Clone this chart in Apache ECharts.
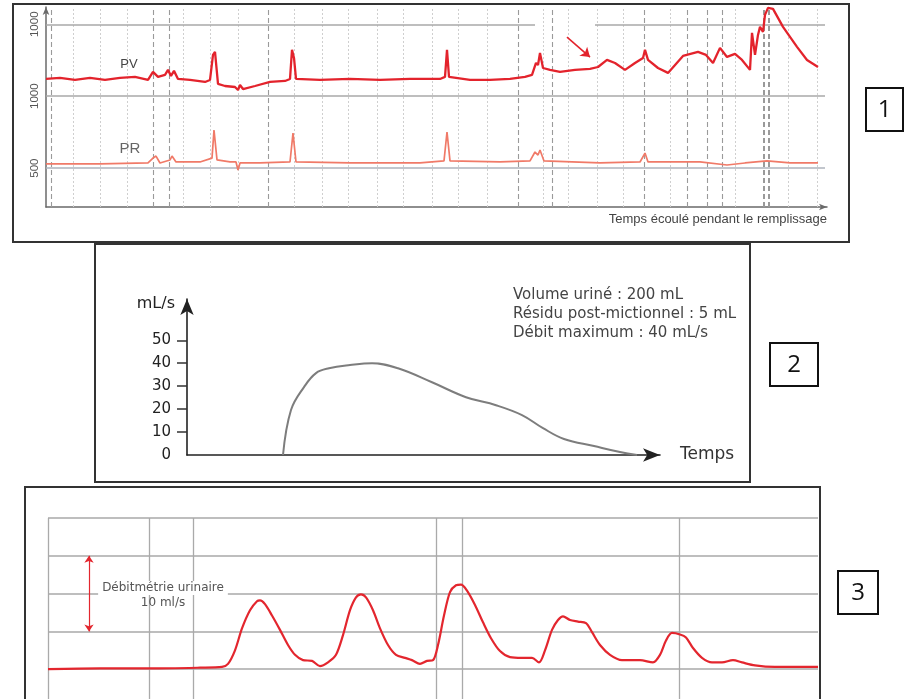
<!DOCTYPE html>
<html><head><meta charset="utf-8">
<script src="https://cdn.jsdelivr.net/npm/echarts@6/dist/echarts.min.js"></script>
<style>html,body{margin:0;padding:0;background:#fff}#c{width:907px;height:699px}</style>
</head><body><div id="c"></div>
<script>
// ---------- Panel 1 : cystomanométrie (PV / PR) ----------
const pvTime = [0,1.4,2.9,4.4,5.9,7.4,8.9,10.2,10.7,11.2,11.9,12.2,12.5,12.8,13.2,14.4,15.9,16.4,16.7,16.9,17.2,17.9,18.9,19.2,19.4,19.7,20.9,22.4,23.9,24.4,24.6,24.8,25.0,27.4,30.4,33.4,36.4,39.4,39.9,40.1,40.3,42.4,44.4,46.4,47.9,48.6,49.0,49.2,49.4,49.7,50.4,51.4,52.9,54.4,55.2,56.1,56.9,57.9,58.9,59.7,59.9,60.2,61.2,62.2,63.7,65.2,66.0,66.7,67.4,68.1,68.9,69.6,70.4,70.6,70.9,71.2,71.4,71.7,71.9,72.2,72.7,73.7,75.1,76.1,77.2];
const pvValues = [1120,1127,1113,1127,1113,1127,1134,1113,1169,1134,1148,1183,1141,1176,1120,1113,1099,1113,1287,1308,1085,1071,1064,1043,1078,1050,1071,1099,1106,1120,1322,1266,1120,1113,1120,1113,1120,1120,1134,1322,1134,1113,1113,1120,1134,1148,1231,1217,1301,1196,1183,1169,1183,1190,1203,1252,1231,1183,1231,1266,1322,1252,1196,1162,1280,1308,1287,1231,1336,1273,1294,1252,1183,1440,1287,1426,1482,1447,1565,1614,1607,1482,1343,1252,1203];
const prTime = [0,5.4,10.2,10.7,11.0,11.4,12.4,12.6,13.0,15.4,16.6,16.8,17.1,18.4,19.0,19.2,19.4,21.4,24.4,24.7,25.0,30.4,37.4,39.8,40.1,40.4,45.4,48.4,48.9,49.2,49.4,49.8,55.4,59.4,59.9,60.2,65.4,68.1,69.9,72.1,74.4,77.2];
const prValues = [530,530,536,570,584,536,557,584,543,543,570,765,557,543,543,487,536,536,543,744,543,536,536,550,751,550,543,550,612,591,626,550,536,543,605,543,543,522,536,550,536,536];
const p1YTickValues = [500, 1000, 1500];
const p1YTickLabels = ['500', '1000', '1000'];
const p1DottedX = [2.7,5.4,8.1,13.7,16.4,19.2,24.8,27.6,30.2,33.1,35.7,38.6,41.2,44.1,49.7,52.2,55.1,57.7,62.4,68.9,74.2,77.1];
const p1DashedX = [0.5,10.7,12.3,22.2,47.2,50.6,59.8,64.1,66.1,67.6,71.8,72.3];
const p1GridY = [1500, 1500, 1000, 500];
const p1GridFrom = [0, 54.9, 0, 0];
const p1GridTo = [48.9, 77.9, 77.9, 77.9];

// ---------- Panel 2 : débitmétrie normale ----------
const flowTime = [9.6,10.4,11.7,12.9,14.2,16.3,18.5,21.1,24.5,27.9,30.9,33.5,35.6,37.7,40.7,43.3,45.0];
const flowValues = [0,19.6,29.6,35.7,37.8,39.2,40,37.8,31.7,25.2,21.7,17.4,11.7,7,3.9,1.3,0];
const p2YTicks = [0,10,20,30,40,50];

// ---------- Panel 3 : débitmétrie polyphasique ----------
const uroTime = [0,5.2,10.2,15.2,17.4,18.0,18.7,19.4,20.2,20.9,21.2,21.7,22.4,23.2,24.0,24.7,25.5,26.4,27.2,28.0,28.8,29.5,30.2,30.8,31.3,31.8,32.5,33.2,34.0,34.8,35.7,36.4,37.2,37.9,38.5,39.0,39.6,40.2,40.8,41.3,41.9,42.7,43.5,44.3,45.2,46.2,47.4,48.4,49.1,49.7,50.4,51.0,51.5,52.2,53.0,53.8,54.4,55.2,56.2,57.4,59.2,60.5,61.2,61.8,62.4,63.2,63.8,64.5,65.4,66.4,67.4,68.5,69.4,70.7,72.7,75.2,77.0];
const uroValues = [0,0.1,0.1,0.2,0.3,0.7,2.5,5.4,7.8,9.0,9.1,8.6,7.1,5.2,3.2,1.9,1.2,1.1,0.4,0.9,1.9,4.5,7.8,9.5,9.9,9.5,7.8,5.4,3.2,1.9,1.5,1.2,0.7,1.1,1.2,3.2,7.1,10.2,11.1,11.2,10.4,8.5,6.2,4.1,2.4,1.6,1.5,1.5,0.9,2.5,5.2,6.5,7.0,6.5,6.3,6.1,4.9,3.2,1.9,1.2,1.2,0.9,1.9,3.8,4.8,4.6,4.2,2.8,1.5,0.9,0.9,1.2,0.9,0.5,0.3,0.3,0.3];
const p3VLines = [0,10.1,14.5,38.8,41.4,63.1];

const zip = (xs, ys) => xs.map((x, i) => [x, ys[i]]);
const SANS = 'Liberation Sans, Arial, sans-serif';
const WIDE = 'DejaVu Sans, sans-serif';

const p1Marks = [];
p1DottedX.forEach(v => p1Marks.push({xAxis: v, lineStyle: {color: '#cfcfcf', width: 1, type: [2, 2]}}));
p1DashedX.forEach((v, i) => p1Marks.push({xAxis: v, lineStyle: {color: '#9a9a9a', width: (i >= 10 ? 2 : 1.1), type: [5, 3]}}));
p1GridY.forEach((y, i) => p1Marks.push([{coord: [p1GridFrom[i], y]}, {coord: [p1GridTo[i], y], lineStyle: {color: (y === 500 ? '#aeb3bd' : '#a8a8a8'), width: 1.6, type: 'solid'}}]));

const p3Marks = p3VLines.map(v => ({xAxis: v, lineStyle: {color: '#aaaaaa', width: 1.3, type: 'solid'}}));
p3Marks.push([{coord: [4.1, 15], symbol: 'arrow'}, {coord: [4.1, 5], symbol: 'arrow', lineStyle: {color: '#e3262e', width: 1.2, type: 'solid'}}]);

const chart = echarts.init(document.getElementById('c'), null, {renderer: 'canvas'});
chart.setOption({
  animation: false,
  backgroundColor: '#ffffff',
  grid: [
    {left: 46, top: 7, width: 781, height: 200, outerBoundsMode: 'none', containLabel: false},
    {left: 187, top: 299, width: 473, height: 156, outerBoundsMode: 'none', containLabel: false},
    {left: 48, top: 518, width: 770, height: 189, outerBoundsMode: 'none', containLabel: false}
  ],
  xAxis: [
    {gridIndex: 0, type: 'value', min: 0, max: 78.1,
      axisLine: {show: true, onZero: false, symbol: ['none', 'arrow'], symbolSize: [5, 8], lineStyle: {color: '#6a6a6a', width: 1.5}},
      axisTick: {show: false}, axisLabel: {show: false}, splitLine: {show: false}},
    {gridIndex: 1, type: 'value', min: 0, max: 47.3,
      axisLine: {show: true, onZero: false, symbol: ['none', 'arrow'], symbolSize: [10, 17], lineStyle: {color: '#222', width: 1.6}},
      axisTick: {show: false}, axisLabel: {show: false}, splitLine: {show: false},
      name: 'Temps', nameLocation: 'end', nameGap: 20,
      nameTextStyle: {fontFamily: WIDE, fontSize: 17, color: '#333'}},
    {gridIndex: 2, type: 'value', min: 0, max: 77, show: false}
  ],
  yAxis: [
    {gridIndex: 0, type: 'value', min: 230, max: 1620,
      axisLine: {show: true, onZero: false, symbol: ['none', 'arrow'], symbolSize: [5, 8], lineStyle: {color: '#6a6a6a', width: 1.5}},
      axisTick: {show: false}, splitLine: {show: false},
      axisLabel: {customValues: p1YTickValues, rotate: 90, margin: 5, fontFamily: SANS, fontSize: 11.5, color: '#555',
        formatter: v => p1YTickLabels[p1YTickValues.indexOf(v)]}},
    {gridIndex: 1, type: 'value', min: 0, max: 68,
      axisLine: {show: true, onZero: false, symbol: ['none', 'arrow'], symbolSize: [10, 16], lineStyle: {color: '#222', width: 1.6}},
      axisTick: {show: true, customValues: p2YTicks.slice(1), length: 10, lineStyle: {color: '#333', width: 1.5}},
      axisLabel: {customValues: p2YTicks, margin: 16, fontFamily: WIDE, fontSize: 15, color: '#222'},
      splitLine: {show: false}},
    {gridIndex: 2, type: 'value', min: -5, max: 20, interval: 5,
      axisLine: {show: false}, axisTick: {show: false}, axisLabel: {show: false},
      splitLine: {show: true, lineStyle: {color: '#a9a9a9', width: 1.5}}}
  ],
  series: [
    {name: 'PV', type: 'line', xAxisIndex: 0, yAxisIndex: 0, data: zip(pvTime, pvValues),
      showSymbol: false, lineStyle: {color: '#e3232c', width: 2.3}, z: 3,
      markLine: {silent: true, z: 1, symbol: 'none', label: {show: false}, animation: false, data: p1Marks}},
    {name: 'PR', type: 'line', xAxisIndex: 0, yAxisIndex: 0, data: zip(prTime, prValues),
      showSymbol: false, lineStyle: {color: '#f07a68', width: 1.7}, z: 3,
      markLine: {silent: true, symbol: ['none', 'arrow'], symbolSize: 9, label: {show: false}, animation: false,
        lineStyle: {color: '#e3232c', width: 1.6, type: 'solid'},
        data: [[{coord: [52.1, 1411]}, {coord: [54.4, 1272]}]]}},
    {name: 'Débit', type: 'line', xAxisIndex: 1, yAxisIndex: 1, data: zip(flowTime, flowValues),
      showSymbol: false, smooth: 0.4, lineStyle: {color: '#7d7d7d', width: 2}},
    {name: 'Débitmétrie', type: 'line', xAxisIndex: 2, yAxisIndex: 2, data: zip(uroTime, uroValues),
      showSymbol: false, smooth: 0.3, lineStyle: {color: '#e3262e', width: 2.2}, z: 3,
      markLine: {silent: true, z: 1, symbol: 'none', symbolSize: 7, label: {show: false}, animation: false, data: p3Marks}}
  ],
  graphic: [
    {type: 'rect', z: 50, shape: {x: 13, y: 4, width: 836, height: 238}, style: {fill: 'none', stroke: '#333', lineWidth: 2}},
    {type: 'rect', z: 50, shape: {x: 95, y: 244, width: 655, height: 238}, style: {fill: 'none', stroke: '#333', lineWidth: 2}},
    {type: 'rect', z: 50, shape: {x: 25, y: 487, width: 795, height: 230}, style: {fill: 'none', stroke: '#333', lineWidth: 2}},
    {type: 'rect', z: 50, shape: {x: 866, y: 88, width: 37, height: 43}, style: {fill: '#fff', stroke: '#111', lineWidth: 2}},
    {type: 'rect', z: 50, shape: {x: 770, y: 343, width: 48, height: 43}, style: {fill: '#fff', stroke: '#111', lineWidth: 2}},
    {type: 'rect', z: 50, shape: {x: 838, y: 571, width: 40, height: 43}, style: {fill: '#fff', stroke: '#111', lineWidth: 2}},
    {type: 'text', z: 60, style: {x: 884.5, y: 110, text: '1', fill: '#111', font: '24px "Open Sans", sans-serif', align: 'center', verticalAlign: 'middle', textAlign: 'center', textVerticalAlign: 'middle'}},
    {type: 'text', z: 60, style: {x: 794, y: 365, text: '2', fill: '#111', font: '24px "Open Sans", sans-serif', align: 'center', verticalAlign: 'middle', textAlign: 'center', textVerticalAlign: 'middle'}},
    {type: 'text', z: 60, style: {x: 858, y: 593, text: '3', fill: '#111', font: '24px "Open Sans", sans-serif', align: 'center', verticalAlign: 'middle', textAlign: 'center', textVerticalAlign: 'middle'}},
    {type: 'text', z: 60, style: {x: 129, y: 64, text: 'PV', fill: '#444', font: '13px "Liberation Sans", Arial', align: 'center', verticalAlign: 'middle', textAlign: 'center', textVerticalAlign: 'middle'}},
    {type: 'text', z: 60, style: {x: 130, y: 149, text: 'PR', fill: '#666', font: '15px "Liberation Sans", Arial', align: 'center', verticalAlign: 'middle', textAlign: 'center', textVerticalAlign: 'middle'}},
    {type: 'text', z: 60, style: {x: 827, y: 219, text: 'Temps écoulé pendant le remplissage', fill: '#444', font: '13px "Liberation Sans", Arial', align: 'right', verticalAlign: 'middle', textAlign: 'right', textVerticalAlign: 'middle'}},
    {type: 'text', z: 60, style: {x: 175, y: 304, text: 'mL/s', fill: '#222', font: '16px "DejaVu Sans"', align: 'right', verticalAlign: 'middle', textAlign: 'right', textVerticalAlign: 'middle'}},
    {type: 'text', z: 60, style: {x: 513, y: 295, text: 'Volume uriné : 200 mL', fill: '#444', font: '15px "DejaVu Sans"', align: 'left', verticalAlign: 'middle', textAlign: 'left', textVerticalAlign: 'middle'}},
    {type: 'text', z: 60, style: {x: 513, y: 314, text: 'Résidu post-mictionnel : 5 mL', fill: '#444', font: '15px "DejaVu Sans"', align: 'left', verticalAlign: 'middle', textAlign: 'left', textVerticalAlign: 'middle'}},
    {type: 'text', z: 60, style: {x: 513, y: 333, text: 'Débit maximum : 40 mL/s', fill: '#444', font: '15px "DejaVu Sans"', align: 'left', verticalAlign: 'middle', textAlign: 'left', textVerticalAlign: 'middle'}},
    {type: 'text', z: 60, style: {x: 163, y: 588, text: 'Débitmétrie urinaire', fill: '#555', font: '12px "DejaVu Sans"', align: 'center', verticalAlign: 'middle', textAlign: 'center', textVerticalAlign: 'middle', backgroundColor: '#fff', padding: [1, 4]}},
    {type: 'text', z: 60, style: {x: 163, y: 603, text: '10 ml/s', fill: '#555', font: '12px "DejaVu Sans"', align: 'center', verticalAlign: 'middle', textAlign: 'center', textVerticalAlign: 'middle'}}
  ]
});
</script></body></html>
